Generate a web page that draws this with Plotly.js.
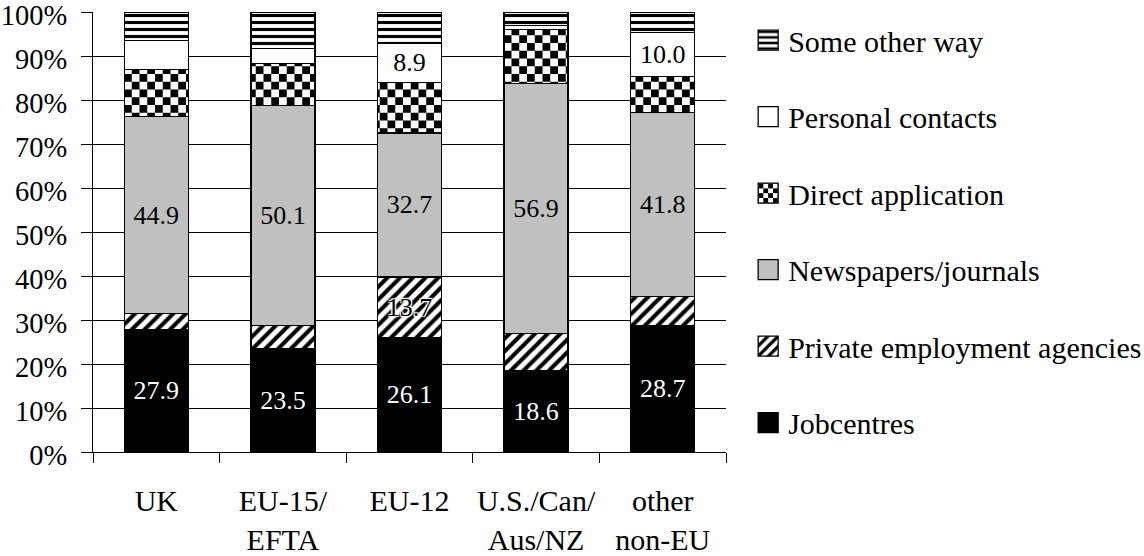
<!DOCTYPE html>
<html>
<head>
<meta charset="utf-8">
<script src="https://cdn.plot.ly/plotly-3.0.1.min.js"></script>
<style>
  html, body { margin: 0; padding: 0; background: #fff; }
  #chart { width: 1144px; height: 556px; }
</style>
</head>
<body>
<div id="chart"></div>
<script>
// ---- data ----
const categories = ['UK', 'EU-15/<br>EFTA', 'EU-12', 'U.S./Can/<br>Aus/NZ', 'other<br>non-EU'];
const seriesNames = ['Jobcentres', 'Private employment agencies', 'Newspapers/journals',
                     'Direct application', 'Personal contacts', 'Some other way'];
const jobcentres   = [27.9, 23.5, 26.1, 18.6, 28.7];
const privateAgencies = [3.5, 5.2, 13.7, 8.3, 6.6];
const newspapers   = [44.9, 50.1, 32.7, 56.9, 41.8];
const directApp    = [10.7, 9.5, 11.5, 12.2, 8.2];
const personal     = [6.6, 3.4, 8.9, 0.9, 10.0];
const otherWay     = [6.4, 8.3, 7.1, 3.1, 4.7];
// which segments carry a printed value label
const showJobcentres = [true, true, true, true, true];
const showPrivate    = [false, false, true, false, false];
const showNews       = [true, true, true, true, true];
const showPersonal   = [false, false, true, false, true];
const yTickValues = [0, 10, 20, 30, 40, 50, 60, 70, 80, 90, 100];
const yTickText   = ['0%', '10%', '20%', '30%', '40%', '50%', '60%', '70%', '80%', '90%', '100%'];

const FONT = '"Liberation Serif"';
function labels(vals, show) {
  return vals.map((v, i) => show[i] ? v.toFixed(1) : '');
}
const line = { color: '#000', width: 1.3 };
const halo = '1px 1px 1px #fff, -1px -1px 1px #fff, 1px -1px 1px #fff, -1px 1px 1px #fff, 0 0 3px #fff';

const data = [
  {
    type: 'bar', name: seriesNames[0], x: categories, y: jobcentres, legendgroup: 'g0', legendrank: 6,
    marker: { color: '#000', line: line },
    text: labels(jobcentres, showJobcentres), textposition: 'inside', insidetextanchor: 'middle',
    textfont: { family: FONT, size: 26, color: '#fff' }, constraintext: 'none'
  },
  {
    type: 'bar', name: seriesNames[1], x: categories, y: privateAgencies, legendgroup: 'g1', legendrank: 5,
    marker: { color: '#fff', line: line,
      pattern: { shape: '/', size: 9, solidity: 0.45, fgcolor: '#000', bgcolor: '#fff', fillmode: 'replace' } },
    text: labels(privateAgencies, showPrivate), textposition: 'inside', insidetextanchor: 'middle',
    textfont: { family: FONT, size: 26, color: '#000', shadow: halo }, constraintext: 'none'
  },
  {
    type: 'bar', name: seriesNames[2], x: categories, y: newspapers, legendgroup: 'g2', legendrank: 4,
    marker: { color: '#c0c0c0', line: line },
    text: labels(newspapers, showNews), textposition: 'inside', insidetextanchor: 'middle',
    textfont: { family: FONT, size: 26, color: '#000' }, constraintext: 'none'
  },
  {
    type: 'bar', name: seriesNames[3], x: categories, y: directApp, legendgroup: 'g3', legendrank: 3,
    marker: { color: '#fff', line: line,
      pattern: { shape: '.', size: 15.5, solidity: 0.5, fgcolor: '#000', bgcolor: '#fff', fillmode: 'replace' } },
    textposition: 'none'
  },
  {
    type: 'bar', name: seriesNames[4], x: categories, y: personal, legendgroup: 'g4', legendrank: 2,
    marker: { color: '#fff', line: line },
    text: labels(personal, showPersonal), textposition: 'inside', insidetextanchor: 'middle',
    textfont: { family: FONT, size: 26, color: '#000' }, constraintext: 'none'
  },
  {
    type: 'bar', name: seriesNames[5], x: categories, y: otherWay, legendgroup: 'g5', legendrank: 1,
    marker: { color: '#fff', line: line,
      pattern: { shape: '-', size: 7, solidity: 0.45, fgcolor: '#000', bgcolor: '#fff', fillmode: 'replace' } },
    textposition: 'none'
  }
];

const layout = {
  width: 1144, height: 556,
  margin: { l: 93, r: 418, t: 12, b: 104, pad: 0, autoexpand: false },
  paper_bgcolor: '#fff', plot_bgcolor: '#fff',
  barmode: 'stack', bargap: 0.495,
  font: { family: FONT, color: '#000', size: 30 },
  showlegend: true,
  legend: {
    x: 1.035, xanchor: 'left', y: 0.995, yanchor: 'top',
    traceorder: 'grouped', tracegroupgap: 34.5,
    font: { family: FONT, size: 30, color: '#000' },
    bgcolor: 'rgba(0,0,0,0)', borderwidth: 0
  },
  xaxis: {
    type: 'category', tickson: 'boundaries', ticks: 'outside', ticklen: 10, tickwidth: 1,
    tickcolor: '#000', showline: true, linecolor: '#000', linewidth: 1, showgrid: false,
    tickfont: { family: FONT, size: 30, color: '#000' }, ticklabelstandoff: 22, tickangle: 0,
    ticklabeloverflow: 'allow', fixedrange: true
  },
  yaxis: {
    range: [0, 100], tickmode: 'array', tickvals: yTickValues, ticktext: yTickText,
    ticks: 'outside', ticklen: 11,
    tickwidth: 1, tickcolor: '#000', showline: true, linecolor: '#000', linewidth: 1,
    showgrid: true, gridcolor: '#000', gridwidth: 1, zeroline: false,
    tickfont: { family: FONT, size: 28.5, color: '#000' }, ticklabelstandoff: 8,
    ticklabelshift: 3,
    ticklabeloverflow: 'allow', fixedrange: true
  }
};

function restyleDetails() {
  // turn the dot pattern into a checkerboard
  document.querySelectorAll('pattern').forEach(function (p) {
    const c = p.querySelector('circle');
    if (!c) return;
    const isLegend = /legend/i.test(p.getAttribute('id') || '');
    let w = parseFloat(p.getAttribute('width'));
    if (isLegend) {
      w = 12;
      p.setAttribute('width', w); p.setAttribute('height', w);
      const bg = p.querySelector('rect');
      if (bg) { bg.setAttribute('width', w); bg.setAttribute('height', w); }
    }
    const h = w / 2;
    c.parentNode.removeChild(c);
    [[0, 0], [h, h]].forEach(function (pos) {
      const r = document.createElementNS('http://www.w3.org/2000/svg', 'rect');
      r.setAttribute('x', pos[0]); r.setAttribute('y', pos[1]);
      r.setAttribute('width', h); r.setAttribute('height', h);
      r.setAttribute('fill', '#000');
      p.appendChild(r);
    });
  });
  // larger legend swatches
  document.querySelectorAll('.legend .legendpoints path').forEach(function (p) {
    p.setAttribute('d', 'M10,10H-10V-10H10Z');
  });
}

Plotly.newPlot('chart', data, layout, { staticPlot: true, displayModeBar: false })
  .then(restyleDetails);
</script>
</body>
</html>
